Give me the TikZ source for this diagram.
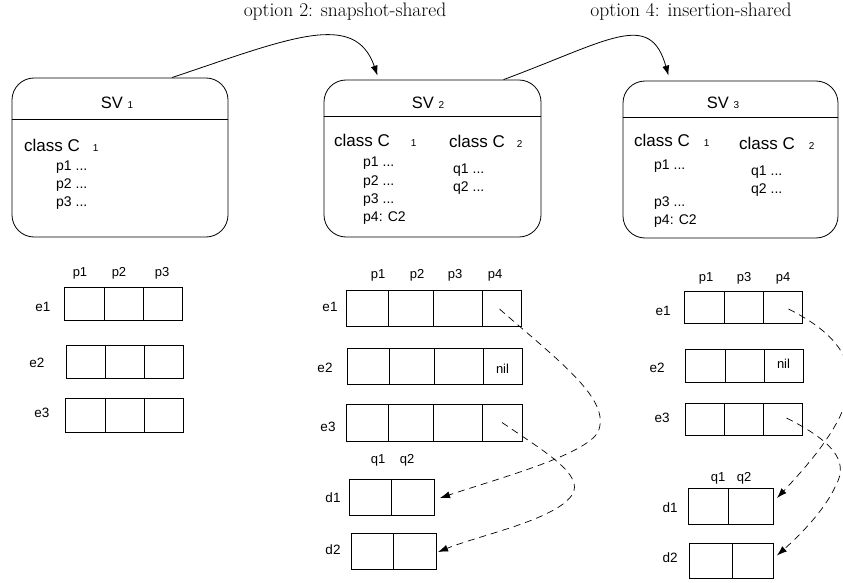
\documentclass[tikz,border=0pt]{standalone}
\usepackage{fontspec}
\newfontfamily\sansfont{Liberation Sans}
\usetikzlibrary{positioning,calc,arrows.meta}

\newcommand{\subsz}{\fontsize{10}{12}\selectfont}
% one row of a table: name, west point, cell widths, cell height
\newcommand{\cellrow}[4]{%
  \coordinate (#1-0) at #2;
  \foreach \w [count=\i] in {#3} {
    \pgfmathtruncatemacro{\j}{\i-1}
    \node[cell=#4, minimum width=\w, right=0pt of #1-\j] (#1-\i) {};
  }}

\tikzset{
  optlabel/.style={font=\fontsize{19.5}{22}\selectfont, inner sep=1pt},
  svbox/.style={draw, rounded corners=22pt, line width=0.8pt, inner sep=0pt},
  svtitle/.style={font=\sansfont\fontsize{16.5}{18}\selectfont, inner sep=1pt},
  classname/.style={font=\sansfont\fontsize{17}{19}\selectfont, inner sep=1pt, anchor=west},
  member/.style={font=\sansfont\fontsize{14}{16}\selectfont, inner sep=1pt, anchor=west},
  colhead/.style={font=\sansfont\fontsize{13}{15}\selectfont, inner sep=1pt},
  rowhead/.style={font=\sansfont\fontsize{13.5}{15}\selectfont, inner sep=1pt},
  cell/.style={draw, line width=0.7pt, minimum height=#1, inner sep=0pt, outer sep=0pt},
  flow/.style={line width=0.8pt, -{Latex[length=10pt,width=7pt]}},
  ptr/.style={line width=0.7pt, dash pattern=on 7pt off 5pt, -{Latex[length=10pt,width=7pt]}},
}

\begin{document}
\begin{tikzpicture}[x=1pt, y=-1pt]
\useasboundingbox (0,0) rectangle (843,583);

% options
\node[optlabel] (opt2) at (345,12) {option 2: snapshot-shared};
\node[optlabel] (opt4) at (691,12) {option 4: insertion-shared};

% schema versions
\node[svbox, minimum width=216, minimum height=159] (sv1) at (120,157.5) {};
\node[svbox, minimum width=217, minimum height=157] (sv2) at (432.5,158.5) {};
\node[svbox, minimum width=215, minimum height=157] (sv3) at (730.5,159.5) {};
\draw[line width=0.6pt] ($(sv1.north west)+(0,42)$) -- ($(sv1.north east)+(0,42)$);
\draw[line width=0.6pt] ($(sv2.north west)+(0,37)$) -- ($(sv2.north east)+(0,37)$);
\draw[line width=0.6pt] ($(sv3.north west)+(0,37)$) -- ($(sv3.north east)+(0,37)$);
\node[svtitle] (sv1t) at ($(sv1.north)+(-3,25)$) {SV {\subsz 1}};
\node[svtitle] (sv2t) at ($(sv2.north)+(-4.5,23)$) {SV {\subsz 2}};
\node[svtitle] (sv3t) at ($(sv3.north)+(-7.5,22)$) {SV {\subsz 3}};

\draw[flow] (sv1.57) .. controls (290,38) and (355,10) .. ([shift={(-55,-4)}]sv2.north);
\draw[flow] (sv2.48) .. controls (610,40) and (650,10) .. ([shift={(-62,-5)}]sv3.north);

% SV1 classes
\node[classname] (sv1c1) at (23,145) {class C\hspace{13pt}{\subsz 1}};
\node[member] (sv1p1) at (55,167) {p1 ...};
\node[member] (sv1p2) at (55,185) {p2 ...};
\node[member] (sv1p3) at (55,203) {p3 ...};

% SV2 classes
\node[classname] (sv2c1) at (333,140) {class C\hspace{21pt}{\subsz 1}};
\node[member] (sv2p1) at (362,163) {p1 ...};
\node[member] (sv2p2) at (362,182) {p2 ...};
\node[member] (sv2p3) at (362,200) {p3 ...};
\node[member] (sv2p4) at (362,218) {p4: C2};
\node[classname] (sv2c2) at (448,141) {class C\hspace{12pt}{\subsz 2}};
\node[member] (sv2q1) at (452,170) {q1 ...};
\node[member] (sv2q2) at (452,188) {q2 ...};

% SV3 classes
\node[classname] (sv3c1) at (633,140) {class C\hspace{14pt}{\subsz 1}};
\node[member] (sv3p1) at (653,166) {p1 ...};
\node[member] (sv3p3) at (653,203) {p3 ...};
\node[member] (sv3p4) at (653,221) {p4: C2};
\node[classname] (sv3c2) at (738,143) {class C\hspace{14pt}{\subsz 2}};
\node[member] (sv3q1) at (750,172) {q1 ...};
\node[member] (sv3q2) at (750,190) {q2 ...};

% SV1 objects
\cellrow{t1e1}{(64,303.5)}{40,39,39}{33}
\cellrow{t1e2}{(66,361.5)}{39,39,39}{33}
\cellrow{t1e3}{(65,415)}{40,39,39}{34}
\node[colhead] (t1h1) at (80,273) {p1};
\node[colhead] (t1h2) at (119,273) {p2};
\node[colhead] (t1h3) at (162,273) {p3};
\node[rowhead] (t1l1) at (43,307) {e1};
\node[rowhead] (t1l2) at (37,363) {e2};
\node[rowhead] (t1l3) at (42,413) {e3};

% SV2 objects
\cellrow{t2e1}{(346,308)}{42,45,49,39}{36}
\cellrow{t2e2}{(347,366)}{42,45,49,39}{36}
\cellrow{t2e3}{(346,422.5)}{42,45,49,40}{37}
\cellrow{t2d1}{(349,497)}{42,43}{36}
\cellrow{t2d2}{(351,551)}{42,43}{36}
\node[colhead] (t2h1) at (378,275) {p1};
\node[colhead] (t2h2) at (417,275) {p2};
\node[colhead] (t2h3) at (455,275) {p3};
\node[colhead] (t2h4) at (495,275) {p4};
\node[colhead] (t2h5) at (378,460) {q1};
\node[colhead] (t2h6) at (407,460) {q2};
\node[rowhead] (t2l1) at (330,307) {e1};
\node[rowhead] (t2l2) at (325,368) {e2};
\node[rowhead] (t2l3) at (328,427) {e3};
\node[rowhead] (t2l4) at (333,498) {d1};
\node[rowhead] (t2l5) at (333,550) {d2};
\node[colhead] (t2nil) at ([yshift=-3]t2e2-4.center) {nil};

% SV3 objects
\cellrow{t3e1}{(684,307)}{40,39,39}{32}
\cellrow{t3e2}{(685,365.5)}{40,39,39}{33}
\cellrow{t3e3}{(685,419)}{39,39,39}{32}
\cellrow{t3d1}{(688,506)}{40,45}{36}
\cellrow{t3d2}{(689,560.5)}{43,41}{35}
\node[colhead] (t3h1) at (706,278) {p1};
\node[colhead] (t3h2) at (744,278) {p3};
\node[colhead] (t3h3) at (783,278) {p4};
\node[colhead] (t3h4) at (718,478) {q1};
\node[colhead] (t3h5) at (744,478) {q2};
\node[rowhead] (t3l1) at (663,311) {e1};
\node[rowhead] (t3l2) at (657,368) {e2};
\node[rowhead] (t3l3) at (662,418) {e3};
\node[rowhead] (t3l4) at (670,508) {d1};
\node[rowhead] (t3l5) at (670,558) {d2};
\node[colhead] (t3nil) at ([yshift=2]t3e2-3.center) {nil};

% references
\draw[ptr] ([shift={(-2,1)}]t2e1-4.center) .. controls (560,362) and (612,400) .. (598,432)
  .. controls (585,455) and (500,478) .. ([shift={(6,1)}]t2d1-2.east);
\draw[ptr] (t2e3-4.center) .. controls (545,452) and (585,475) .. (572,495)
  .. controls (555,520) and (480,535) .. ([shift={(2,1)}]t2d2-2.east);
\draw[ptr] ([shift={(6,2)}]t3e1-3.center) .. controls (880,355) and (860,410) .. ([shift={(4,-8)}]t3d1-2.east);
\draw[ptr] ([shift={(4,-1)}]t3e3-3.center) .. controls (830,440) and (850,460) .. (836,485)
  .. controls (825,510) and (800,535) .. ([shift={(4,-5)}]t3d2-2.east);
\end{tikzpicture}
\end{document}
